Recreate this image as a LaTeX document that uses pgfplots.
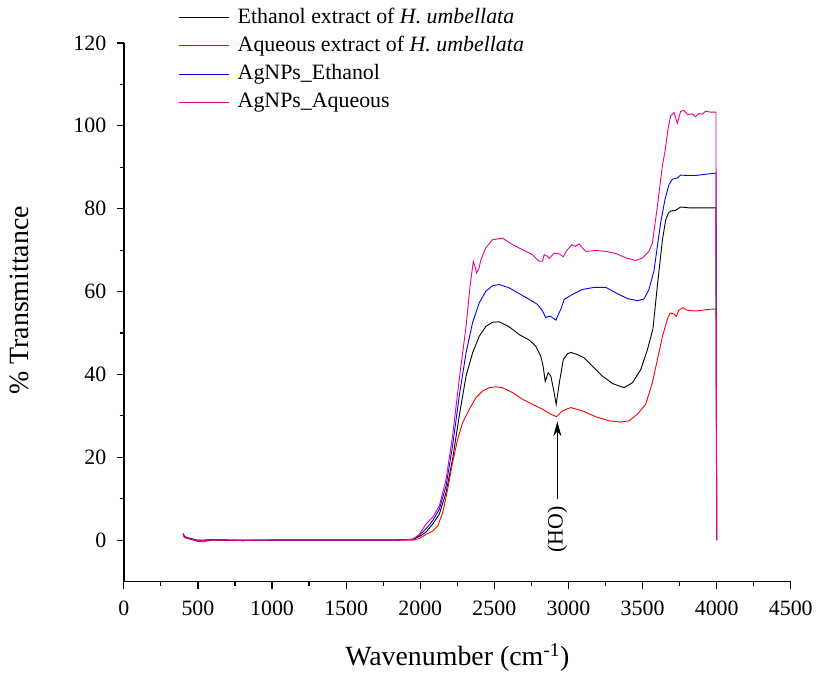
\documentclass[border=0pt]{standalone}
\usepackage{fontspec}
\setmainfont{Liberation Serif}
\usepackage{pgfplots}
\pgfplotsset{compat=1.18}
\usepackage{pgfplotstable}
\usetikzlibrary{arrows.meta}

\pgfplotstableread{
x y
400 1.5
410 0.8
430 0.5
500 -0.2
600 0.1
800 -0.1
1000 0
1200 0
1500 0
1800 0
1950 0.2
2000 1.0
2040 2.0
2084 3.9
2129 6.3
2174 11.5
2218 19.5
2263 30.0
2309 39.6
2353 45.2
2398 49.2
2443 51.6
2488 52.6
2533 52.7
2600 51.5
2668 49.6
2735 48.3
2780 46.8
2813 44.4
2829 42.0
2843 38.3
2863 40.4
2881 39.6
2899 36.4
2917 32.8
2940 38.3
2965 43.6
2994 45.0
3016 45.3
3061 44.8
3106 44.0
3162 42.0
3229 39.6
3297 37.8
3375 36.8
3432 38.0
3488 41.2
3533 46.0
3570 51.0
3600 61.5
3634 72.5
3656 77.3
3675 79.0
3690 79.4
3723 79.6
3757 80.4
3813 80.2
3900 80.2
3995 80.2
4000 0
}\ethanol

\pgfplotstableread{
x y
400 1.3
410 0.6
430 0.4
500 -0.3
530 -0.4
600 0
800 -0.1
1000 0
1500 0
1800 0
1950 0
1994 0.4
2039 1.4
2084 2.2
2118 3.4
2152 6.7
2185 12.3
2218 18.7
2252 24.3
2286 28.4
2331 31.6
2376 34.4
2421 36.0
2465 36.8
2510 37.0
2555 36.8
2623 35.6
2690 34.0
2757 32.8
2825 31.6
2881 30.4
2919 29.8
2959 31.2
3016 32.0
3094 31.2
3184 29.8
3274 28.8
3353 28.5
3409 28.8
3465 30.4
3521 32.8
3566 38.0
3600 43.6
3634 49.2
3667 53.3
3685 54.8
3712 54.6
3727 54.0
3745 55.5
3772 56.1
3801 55.5
3857 55.3
3902 55.5
3947 55.7
3995 55.8
4000 0
}\aqueous

\pgfplotstableread{
x y
400 1.6
410 0.9
430 0.6
500 0
600 0.1
800 0
1000 0
1500 0
1800 0
1950 0.2
1994 1.2
2040 2.8
2084 4.7
2129 7.5
2174 13.1
2218 22.7
2263 34.8
2309 45.2
2353 52.5
2398 57.3
2443 60.1
2488 61.4
2533 61.7
2600 60.9
2668 59.5
2735 58.1
2791 56.9
2825 55.3
2847 53.7
2865 54.0
2881 54.0
2915 53.1
2948 55.7
2971 58.1
3027 59.3
3094 60.5
3173 61.0
3252 61.0
3319 59.7
3398 58.3
3465 57.8
3510 58.2
3543 60.5
3577 65.0
3600 71.0
3622 76.6
3651 82.2
3678 85.8
3701 87.1
3734 87.4
3757 88.1
3802 88.0
3857 88.0
3925 88.3
3995 88.6
4000 0
}\agethanol

\pgfplotstableread{
x y
400 1.4
410 0.7
430 0.5
500 -0.2
600 0.1
800 0
1000 0
1500 0
1800 0
1950 0.2
1994 1.4
2039 3.9
2084 5.5
2129 8.3
2174 14.7
2218 25.1
2263 38.8
2309 51.6
2336 61.3
2358 67.3
2370 66.0
2380 64.5
2395 65.5
2410 67.7
2443 70.6
2488 72.5
2555 72.9
2623 71.3
2690 70.1
2757 68.9
2802 67.3
2825 67.3
2836 68.9
2847 68.7
2859 68.5
2870 68.0
2904 69.3
2937 69.1
2964 68.4
2993 70.1
3023 71.3
3046 70.9
3072 71.5
3095 70.5
3117 69.7
3184 69.9
3252 69.7
3319 69.2
3387 68.1
3454 67.5
3499 68.1
3543 69.7
3566 71.7
3600 80.6
3633 90.2
3651 93.8
3674 99.8
3690 102.4
3712 103.2
3734 100.6
3757 103.5
3779 103.7
3802 102.7
3835 102.9
3857 102.2
3880 103.0
3902 102.8
3925 103.5
3959 103.3
3995 103.3
4000 0
}\agaqueous

\begin{document}
\begin{tikzpicture}
\begin{axis}[
    scale only axis,
    width=668bp, height=539.5bp,
    xmin=0, xmax=4500,
    ymin=-10, ymax=120,
    clip=false,
    axis x line*=bottom,
    axis y line*=left,
    axis line style={-, line width=1.5bp},
    xtick={0,500,...,4500},
    ytick={0,20,...,120},
    minor x tick num=1,
    minor y tick num=1,
    tick align=outside,
    major tick length=7bp,
    minor tick length=4bp,
    tick style={line width=1.2bp, black},
    /pgf/number format/1000 sep={},
    /pgf/number format/assume math mode=true,
    tick label style={font=\fontsize{22}{26}\selectfont},
    xticklabel style={yshift=-9bp},
    yticklabel style={xshift=-7bp},
    xlabel={Wavenumber (cm\textsuperscript{-1})},
    ylabel={\% Transmittance},
    label style={font=\fontsize{28}{32}\selectfont},
    xlabel style={at={(axis description cs:0.5,0)}, anchor=base, yshift=-84bp},
    ylabel style={at={(axis description cs:-0.1422,0.522)}, anchor=base},
    legend cell align=left,
    legend image code/.code={\draw[#1] (0bp,0bp) -- (50bp,0bp);},
    legend style={at={(axis description cs:0.0823,1.0667)}, anchor=north west,
        draw=none, fill=none, inner sep=0pt, row sep=7.3bp, column sep=8bp,
        font=\fontsize{22}{26}\selectfont,
        nodes={inner sep=0pt, text height=16bp, text depth=5bp}},
]
\path (axis cs:-835.4,-31.8) rectangle (axis cs:4661.8,130.36);
\addplot[black, line width=0.9bp] table {\ethanol};
\addlegendentry{Ethanol extract of \textit{H. umbellata}}
\addplot[red, line width=0.9bp] table {\aqueous};
\addlegendentry{Aqueous extract of \textit{H. umbellata}}
\addplot[blue, line width=0.9bp] table {\agethanol};
\addlegendentry{AgNPs\_Ethanol}
\addplot[magenta, line width=0.9bp] table {\agaqueous};
\addlegendentry{AgNPs\_Aqueous}
\draw[black, line width=0.9bp, -{Stealth[length=15bp, width=8bp]}]
    (axis cs:2925,9.9) -- (axis cs:2925,28.7);
\node[rotate=90, font=\fontsize{22}{26}\selectfont] at (axis cs:2925,2.6) {(HO)};
\end{axis}
\end{tikzpicture}
\end{document}
